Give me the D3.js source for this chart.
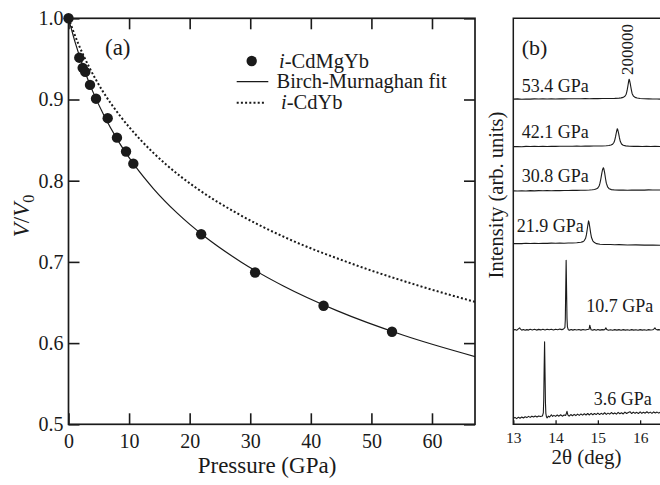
<!DOCTYPE html>
<html>
<head>
<meta charset="utf-8">
<script src="https://d3js.org/d3.v7.min.js"></script>
<style>
  body { margin: 0; background: #fff; }
  svg { display: block; }
  svg text { font-family: "Liberation Serif", "Times New Roman", Tinos, Times, "DejaVu Serif", serif !important; }
</style>
</head>
<body>
<svg id="chart" width="660" height="485"></svg>
<script>
// ---- panel (a): V/V0 vs pressure ----
const pressure = [0, 1.78, 2.34, 2.77, 3.55, 4.54, 6.47, 8.0, 9.5, 10.7, 21.9, 30.8, 42.1, 53.4];
const volume   = [1.0, 0.9515, 0.939, 0.934, 0.918, 0.901, 0.877, 0.853, 0.836, 0.821, 0.734, 0.687, 0.646, 0.614];

// Birch-Murnaghan fit curve
const fitP = [0, 1.11, 2.43, 4.00, 5.88, 8.12, 10.81, 14.04, 17.95, 22.69, 28.47, 35.55, 44.30, 55.17, 68.79];
const fitV = [1.0, 0.97, 0.94, 0.91, 0.88, 0.85, 0.82, 0.79, 0.76, 0.73, 0.70, 0.67, 0.64, 0.61, 0.58];

// i-CdYb curve
const cdybP = [0, 1.54, 3.40, 5.67, 8.50, 11.93, 16.10, 21.29, 27.80, 35.80, 45.94, 58.10, 67.5];
const cdybV = [1.0, 0.97, 0.94, 0.91, 0.88, 0.85, 0.82, 0.79, 0.76, 0.73, 0.70, 0.67, 0.65];

const xTicksA = [0, 10, 20, 30, 40, 50, 60];
const yTicksA = [0.5, 0.6, 0.7, 0.8, 0.9, 1.0];

// ---- panel (b): diffraction profiles, [2theta, intensity] ----
const xTicksB = [13, 14, 15, 16];
const labelsB = ["3.6 GPa", "10.7 GPa", "21.9 GPa", "30.8 GPa", "42.1 GPa", "53.4 GPa"];
const offsetsB = [1.5, 23.2, 44.5, 57.5, 68.4, 80.1];

const trace36 = [[13.00,0],[13.04,0.2],[13.08,-0.1],[13.12,0.25],[13.16,0.0],[13.20,0.3],[13.24,0.05],[13.28,0.35],[13.32,0.15],[13.36,0.45],[13.40,0.2],[13.44,0.5],[13.48,0.3],[13.52,0.55],[13.56,0.3],[13.60,0.55],[13.64,0.4],[13.69,0.55],[13.71,1.3],[13.72,4.5],[13.73,12.5],[13.74,18.8],[13.75,11.5],[13.76,4.0],[13.77,1.2],[13.785,0.3],[13.80,0.1],[13.83,0.5],[13.86,0.3],[13.90,0.85],[13.93,0.45],[13.96,0.7],[14.00,0.45],[14.04,0.8],[14.08,0.5],[14.12,0.85],[14.16,0.5],[14.20,0.8],[14.24,0.7],[14.27,1.7],[14.29,0.8],[14.32,0.5],[14.36,0.9],[14.40,0.6],[14.44,0.95],[14.48,0.65],[14.52,1.0],[14.56,0.7],[14.60,1.05],[14.64,0.75],[14.68,1.1],[14.72,0.8],[14.76,1.15],[14.80,0.8],[14.84,1.2],[14.88,0.85],[14.92,1.15],[14.96,0.9],[15.00,1.25],[15.04,0.9],[15.08,1.2],[15.12,0.95],[15.16,1.35],[15.20,0.95],[15.24,1.25],[15.28,1.0],[15.32,1.4],[15.36,1.05],[15.40,1.3],[15.44,1.0],[15.48,1.45],[15.52,1.1],[15.56,1.35],[15.60,1.05],[15.64,1.5],[15.68,1.15],[15.72,1.4],[15.76,1.6],[15.80,1.15],[15.84,1.5],[15.88,1.2],[15.92,1.45],[15.96,1.15],[16.00,1.55],[16.04,1.2],[16.08,1.45],[16.12,1.25],[16.16,1.6],[16.20,1.25],[16.24,1.5],[16.28,1.2],[16.32,1.55],[16.36,1.3],[16.40,1.5],[16.44,1.25],[16.47,1.45]];

const trace107 = [[13.00,0],[13.04,0.15],[13.08,-0.05],[13.12,0.3],[13.15,0.55],[13.17,0.25],[13.20,0.0],[13.24,0.15],[13.28,-0.05],[13.32,0.12],[13.36,0.0],[13.40,0.2],[13.45,0.05],[13.50,0.2],[13.55,0.0],[13.60,0.18],[13.65,0.05],[13.70,0.2],[13.75,0.05],[13.80,0.22],[13.85,0.08],[13.90,0.2],[13.95,0.05],[14.00,0.22],[14.05,0.1],[14.10,0.25],[14.15,0.12],[14.19,0.3],[14.22,0.6],[14.23,2.5],[14.24,10],[14.25,17.2],[14.26,10],[14.27,3],[14.28,0.8],[14.30,0.1],[14.33,0.0],[14.37,0.15],[14.41,0.0],[14.45,0.15],[14.50,0.02],[14.55,0.15],[14.60,0.0],[14.65,0.15],[14.70,0.02],[14.75,0.15],[14.79,0.2],[14.80,0.7],[14.81,1.2],[14.82,0.7],[14.84,0.1],[14.88,0.0],[14.92,0.15],[14.96,-0.02],[15.00,0.15],[15.05,0.0],[15.10,0.12],[15.15,0.05],[15.17,0.2],[15.19,0.55],[15.21,0.15],[15.25,-0.05],[15.30,0.1],[15.35,-0.05],[15.40,0.12],[15.45,0.0],[15.50,0.12],[15.55,-0.02],[15.60,0.12],[15.65,0.0],[15.70,0.1],[15.75,-0.05],[15.80,0.12],[15.85,0.0],[15.90,0.1],[15.95,-0.03],[16.00,0.12],[16.05,0.0],[16.10,0.1],[16.15,-0.02],[16.20,0.12],[16.25,0.02],[16.30,0.1],[16.33,0.3],[16.35,0.55],[16.37,0.25],[16.40,0.05],[16.44,0.12],[16.47,0.05]];

const trace219 = [[13.00,0],[13.10,0.05],[13.20,0.0],[13.30,0.08],[13.40,0.03],[13.50,0.1],[13.60,0.05],[13.70,0.1],[13.80,0.07],[13.90,0.12],[14.00,0.08],[14.10,0.14],[14.20,0.1],[14.30,0.16],[14.40,0.17],[14.50,0.22],[14.55,0.28],[14.60,0.35],[14.65,0.5],[14.68,0.75],[14.71,1.3],[14.73,2.2],[14.75,3.6],[14.77,5.0],[14.78,5.6],[14.79,5.3],[14.81,4.0],[14.83,2.6],[14.85,1.5],[14.88,0.7],[14.92,0.25],[14.97,0.0],[15.05,-0.15],[15.15,-0.2],[15.30,-0.22],[15.40,-0.28],[15.50,-0.25],[15.70,-0.32],[15.90,-0.3],[16.10,-0.36],[16.30,-0.35],[16.47,-0.4]];

const trace308 = [[13.00,0],[13.10,-0.05],[13.20,0.04],[13.30,-0.02],[13.40,0.05],[13.50,0.0],[13.60,0.06],[13.70,0.02],[13.80,0.07],[13.90,0.04],[14.00,0.08],[14.10,0.06],[14.20,0.1],[14.30,0.08],[14.40,0.12],[14.50,0.11],[14.60,0.14],[14.70,0.16],[14.80,0.2],[14.87,0.27],[14.92,0.35],[14.97,0.5],[15.00,0.72],[15.03,1.2],[15.05,1.9],[15.07,2.9],[15.09,4.1],[15.11,5.2],[15.13,5.7],[15.14,5.5],[15.16,4.5],[15.18,3.1],[15.20,1.9],[15.23,1.0],[15.27,0.5],[15.32,0.3],[15.40,0.22],[15.50,0.18],[15.60,0.2],[15.70,0.16],[15.80,0.2],[15.90,0.17],[16.00,0.22],[16.10,0.19],[16.20,0.23],[16.30,0.2],[16.47,0.22]];

const trace421 = [[13.00,0],[13.10,0.04],[13.20,-0.02],[13.30,0.05],[13.40,0.01],[13.50,0.06],[13.60,0.03],[13.70,0.07],[13.80,0.04],[13.90,0.08],[14.00,0.05],[14.10,0.09],[14.20,0.07],[14.30,0.1],[14.40,0.08],[14.50,0.11],[14.60,0.1],[14.70,0.12],[14.80,0.11],[14.90,0.13],[15.00,0.13],[15.10,0.16],[15.20,0.2],[15.26,0.26],[15.31,0.38],[15.35,0.6],[15.38,1.0],[15.40,1.6],[15.42,2.5],[15.44,3.6],[15.46,4.4],[15.47,4.2],[15.49,3.3],[15.51,2.2],[15.53,1.3],[15.56,0.65],[15.60,0.32],[15.66,0.18],[15.75,0.1],[15.85,0.06],[15.95,0.08],[16.05,0.03],[16.15,0.06],[16.25,0.02],[16.35,0.05],[16.47,0.02]];

const trace534 = [[13.00,0],[13.10,0.05],[13.20,-0.03],[13.30,0.04],[13.40,0.0],[13.50,0.06],[13.60,0.02],[13.70,0.07],[13.80,0.03],[13.90,0.06],[14.00,0.04],[14.10,0.08],[14.20,0.05],[14.30,0.09],[14.40,0.07],[14.50,0.1],[14.60,0.08],[14.70,0.11],[14.80,0.09],[14.90,0.12],[15.00,0.11],[15.10,0.14],[15.20,0.13],[15.30,0.16],[15.40,0.18],[15.50,0.24],[15.55,0.3],[15.60,0.42],[15.64,0.7],[15.67,1.2],[15.69,2.0],[15.71,3.2],[15.73,4.5],[15.74,4.9],[15.75,4.6],[15.77,3.6],[15.79,2.4],[15.81,1.4],[15.84,0.75],[15.88,0.42],[15.93,0.25],[16.00,0.15],[16.10,0.08],[16.20,0.06],[16.30,0.02],[16.40,0.03],[16.47,0.0]];

const tracesB = [trace36, trace107, trace219, trace308, trace421, trace534];

const svg = d3.select("#chart");
const ink = "#1a1a1a";

// ================= panel (a) =================
const xA = d3.scaleLinear().domain([0, 67.1]).range([68.5, 475]);
const yA = d3.scaleLinear().domain([0.5, 1.0]).range([424.3, 18.3]);

svg.append("clipPath").attr("id", "clipA")
  .append("rect").attr("x", 68.5).attr("y", 18.3).attr("width", 475 - 68.5).attr("height", 424.3 - 18.3);

const lineA = d3.line().x(d => xA(d[0])).y(d => yA(d[1])).curve(d3.curveMonotoneX);

svg.append("path")
  .datum(cdybP.map((p, i) => [p, cdybV[i]]))
  .attr("clip-path", "url(#clipA)")
  .attr("d", lineA).attr("fill", "none").attr("stroke", ink)
  .attr("stroke-width", 2).attr("stroke-dasharray", "2,2.2");

svg.append("path")
  .datum(fitP.map((p, i) => [p, fitV[i]]))
  .attr("clip-path", "url(#clipA)")
  .attr("d", lineA).attr("fill", "none").attr("stroke", ink).attr("stroke-width", 1.2);

// axes (ticks point inward)
const bottomA = svg.append("g").attr("transform", "translate(0,424.3)")
  .call(d3.axisBottom(xA).tickValues(xTicksA).tickSize(-11).tickPadding(9.5).tickFormat(d3.format("d")));
const topA = svg.append("g").attr("transform", "translate(0,18.3)")
  .call(d3.axisTop(xA).tickValues(xTicksA).tickSize(-11).tickFormat(""));
const leftA = svg.append("g").attr("transform", "translate(68.5,0)")
  .call(d3.axisLeft(yA).tickValues(yTicksA).tickSize(-11).tickPadding(5).tickFormat(d3.format(".1f")));
const rightA = svg.append("g").attr("transform", "translate(475,0)")
  .call(d3.axisRight(yA).tickValues(yTicksA).tickSize(-11).tickFormat(""));

[bottomA, topA, leftA, rightA].forEach(g => {
  g.select(".domain").remove();
  g.selectAll(".tick line").attr("stroke", ink).attr("stroke-width", 1.6);
  g.selectAll(".tick text").attr("fill", ink).style("font-size", "20px");
});

svg.append("rect").attr("x", 68.5).attr("y", 18.3)
  .attr("width", 475 - 68.5).attr("height", 424.3 - 18.3)
  .attr("fill", "none").attr("stroke", ink).attr("stroke-width", 1.7);

// data points
svg.append("g").selectAll("circle")
  .data(pressure.map((p, i) => [p, volume[i]]))
  .join("circle")
  .attr("cx", d => xA(d[0])).attr("cy", d => yA(d[1]))
  .attr("r", 5.2).attr("fill", ink);

// axis titles
svg.append("text").attr("x", 267).attr("y", 473).attr("text-anchor", "middle")
  .style("font-size", "23px").attr("fill", ink).text("Pressure (GPa)");

const vlab = svg.append("text").attr("transform", "translate(29,216) rotate(-90)")
  .attr("text-anchor", "middle").style("font-size", "23px").attr("fill", ink);
vlab.append("tspan").style("font-style", "italic").text("V");
vlab.append("tspan").text("/");
vlab.append("tspan").style("font-style", "italic").text("V");
vlab.append("tspan").attr("dy", 5).style("font-size", "16px").text("0");

svg.append("text").attr("x", 105).attr("y", 55).style("font-size", "23px").attr("fill", ink).text("(a)");

// legend
const leg = svg.append("g");
leg.append("circle").attr("cx", 251.7).attr("cy", 61).attr("r", 5.2).attr("fill", ink);
leg.append("line").attr("x1", 236.7).attr("x2", 268.3).attr("y1", 81.7).attr("y2", 81.7)
  .attr("stroke", ink).attr("stroke-width", 1.2);
leg.append("line").attr("x1", 236.7).attr("x2", 266).attr("y1", 102.7).attr("y2", 102.7)
  .attr("stroke", ink).attr("stroke-width", 2).attr("stroke-dasharray", "2,2.2");

const legendText = [["i", "-CdMgYb", 279, 68], ["", "Birch-Murnaghan fit", 276.5, 88], ["i", "-CdYb", 281, 108.5]];
legendText.forEach(([it, rest, x, y]) => {
  const t = leg.append("text").attr("x", x).attr("y", y).style("font-size", "20.5px").attr("fill", ink);
  if (it) t.append("tspan").style("font-style", "italic").text(it);
  t.append("tspan").text(rest);
});

// ================= panel (b) =================
const xB = d3.scaleLinear().domain([13, 16.47]).range([513.3, 660]);
const yB = d3.scaleLinear().domain([0, 100]).range([424.3, 18.3]);

const lineB = d3.line().x(d => xB(d[0])).y(d => yB(d[1]));

svg.append("g").selectAll("path")
  .data(tracesB)
  .join("path")
  .attr("d", (tr, i) => lineB(tr.map(d => [d[0], d[1] + offsetsB[i]])))
  .attr("fill", "none").attr("stroke", ink).attr("stroke-width", 1.1)
  .attr("stroke-linejoin", "round");

const bottomB = svg.append("g").attr("transform", "translate(0,424.3)")
  .call(d3.axisBottom(xB).tickValues(xTicksB).tickSize(-4).tickPadding(7.7).tickFormat(d3.format("d")));
bottomB.select(".domain").remove();
bottomB.selectAll(".tick line").attr("stroke", ink).attr("stroke-width", 1.3);
bottomB.selectAll(".tick text").attr("fill", ink).style("font-size", "15.5px");

svg.append("path")
  .attr("d", `M660,18.3H513.3V424.3H660`)
  .attr("fill", "none").attr("stroke", ink).attr("stroke-width", 1.5);

// pressure labels for each profile
const labelPos = [[651.7, 405, "end"], [653.3, 311.5, "end"], [516.7, 232, "start"],
                  [521.7, 181.7, "start"], [521.7, 138.3, "start"], [521.7, 91.7, "start"]];
svg.append("g").selectAll("text")
  .data(labelsB)
  .join("text")
  .attr("x", (d, i) => labelPos[i][0]).attr("y", (d, i) => labelPos[i][1])
  .attr("text-anchor", (d, i) => labelPos[i][2])
  .style("font-size", "18px").attr("fill", ink).text(d => d);

svg.append("text").attr("x", 521.7).attr("y", 55).style("font-size", "22px").attr("fill", ink).text("(b)");

svg.append("text").attr("transform", "translate(632.5,75) rotate(-90)")
  .style("font-size", "17px").attr("fill", ink).text("200000");

svg.append("text").attr("transform", "translate(503,195) rotate(-90)")
  .attr("text-anchor", "middle").style("font-size", "20.5px").attr("fill", ink)
  .text("Intensity (arb. units)");

svg.append("text").attr("x", 586.5).attr("y", 464).attr("text-anchor", "middle")
  .style("font-size", "21px").attr("fill", ink).text("2θ (deg)");
</script>
</body>
</html>
